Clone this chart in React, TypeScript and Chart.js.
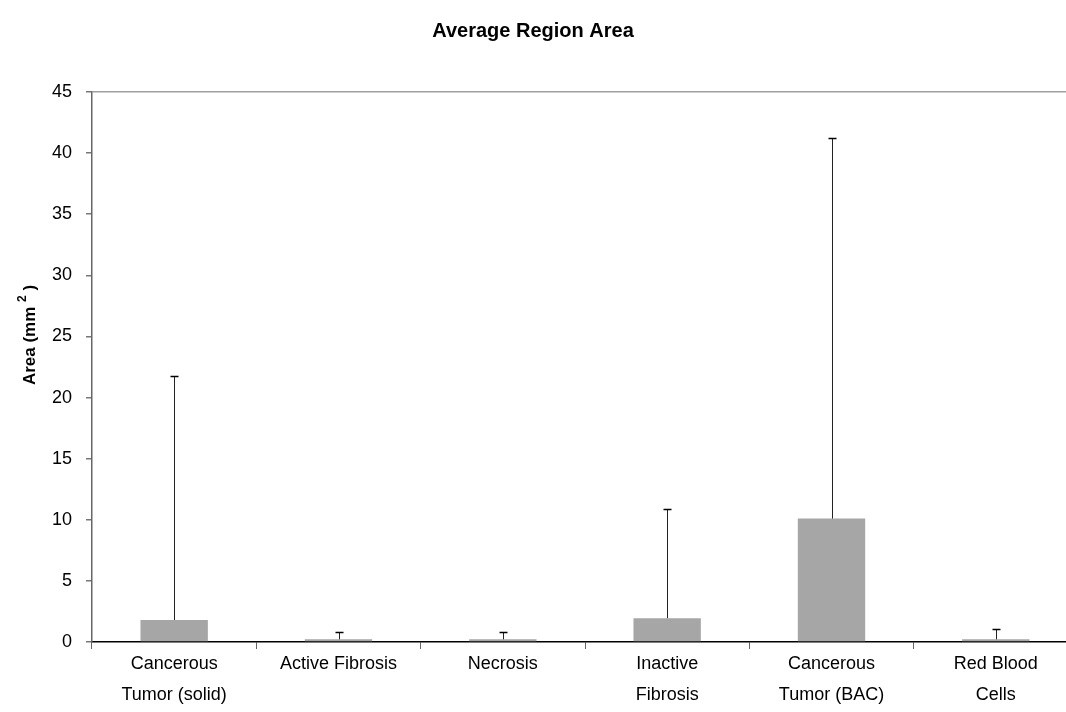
import React, { useEffect, useRef } from "react";
import { Chart, registerables } from "chart.js";

Chart.register(...registerables);

const categories: string[][] = [
  ["Cancerous", "Tumor (solid)"],
  ["Active Fibrosis"],
  ["Necrosis"],
  ["Inactive", "Fibrosis"],
  ["Cancerous", "Tumor (BAC)"],
  ["Red Blood", "Cells"],
];
const meanArea: number[] = [1.8, 0.22, 0.22, 1.95, 10.1, 0.22];
const errorTop: number[] = [21.75, 0.8, 0.8, 10.9, 41.2, 1.05];
const yTicks: number[] = [0, 5, 10, 15, 20, 25, 30, 35, 40, 45];
const chartTitle = "Average Region Area";
const yTitleMain = "Area (mm ";
const yTitleSup = "2";
const yTitleEnd = " )";

const FONT = "'Liberation Sans', Arial, sans-serif";

const errorBarPlugin = {
  id: "errorBars",
  afterDatasetsDraw(chart: any) {
    const meta = chart.getDatasetMeta(0);
    const ys = chart.scales.y;
    const ctx = chart.ctx;
    ctx.save();
    meta.data.forEach((bar: any, i: number) => {
      const x = Math.round(bar.x) + 0.5;
      const yb = ys.getPixelForValue(meanArea[i]);
      const yt = Math.round(ys.getPixelForValue(errorTop[i])) + 0.5;
      ctx.strokeStyle = "#222";
      ctx.lineWidth = 1;
      ctx.beginPath();
      ctx.moveTo(x, yb);
      ctx.lineTo(x, yt);
      ctx.stroke();
      ctx.strokeStyle = "#000";
      ctx.lineWidth = 1.5;
      ctx.beginPath();
      ctx.moveTo(x - 4, yt);
      ctx.lineTo(x + 4, yt);
      ctx.stroke();
    });
    ctx.restore();
  },
};

const textPlugin = {
  id: "texts",
  afterDraw(chart: any) {
    const ctx = chart.ctx;
    ctx.save();
    ctx.fillStyle = "#000";
    ctx.font = `bold 20px ${FONT}`;
    ctx.textAlign = "center";
    ctx.textBaseline = "middle";
    ctx.fillText(chartTitle, 533, 31);

    // rotated y-axis title with superscript
    ctx.translate(30, 335);
    ctx.rotate(-Math.PI / 2);
    ctx.textAlign = "left";
    ctx.textBaseline = "middle";
    const big = `bold 17px ${FONT}`;
    const small = `bold 12px ${FONT}`;
    ctx.font = big;
    const w1 = ctx.measureText(yTitleMain).width;
    ctx.font = small;
    const w2 = ctx.measureText(yTitleSup).width;
    ctx.font = big;
    const w3 = ctx.measureText(yTitleEnd).width;
    const total = w1 + w2 + w3;
    let x = -total / 2;
    ctx.font = big;
    ctx.fillText(yTitleMain, x, 0);
    x += w1;
    ctx.font = small;
    ctx.fillText(yTitleSup, x, -7);
    x += w2;
    ctx.font = big;
    ctx.fillText(yTitleEnd, x, 0);
    ctx.restore();
  },
};

export default function App() {
  const ref = useRef<HTMLCanvasElement | null>(null);
  useEffect(() => {
    document.body.style.margin = "0";
    document.body.style.overflow = "hidden";
    const chart = new Chart(ref.current as HTMLCanvasElement, {
      type: "bar",
      data: {
        labels: categories,
        datasets: [
          {
            data: meanArea,
            backgroundColor: "#a6a6a6",
            borderWidth: 0,
            barPercentage: 0.41,
            categoryPercentage: 1,
          },
        ],
      },
      plugins: [errorBarPlugin, textPlugin],
      options: {
        animation: false,
        responsive: false,
        maintainAspectRatio: false,
        layout: { padding: { left: 0, right: 12, top: 92, bottom: 0 } },
        plugins: {
          legend: { display: false },
          tooltip: { enabled: false },
          title: { display: false },
        },
        scales: {
          x: {
            offset: true,
            grid: {
              offset: true,
              drawOnChartArea: false,
              drawTicks: true,
              tickLength: 7,
              tickColor: "#666",
            },
            border: { display: true, color: "#000", width: 1.5 },
            ticks: {
              color: "#000",
              font: { family: FONT, size: 18, lineHeight: 1.72 },
              padding: 0,
              maxRotation: 0,
              autoSkip: false,
            },
            afterFit(scale: any) {
              scale.height = 70;
            },
          },
          y: {
            min: 0,
            max: 45,
            afterBuildTicks(scale: any) {
              scale.ticks = yTicks.map((v) => ({ value: v }));
            },
            grid: {
              drawOnChartArea: true,
              color: (c: any) => (c.tick && c.tick.value === 45 ? "#a0a0a0" : "rgba(0,0,0,0)"),
              lineWidth: 1.5,
              tickColor: "#777",
              tickLength: 6,
            },
            border: { display: true, color: "#666", width: 1.5 },
            ticks: {
              color: "#000",
              font: { family: FONT, size: 18 },
              padding: 14,
            },
            title: { display: false },
            afterFit(scale: any) {
              scale.width = 92;
            },
          },
        },
      },
    });
    return () => chart.destroy();
  }, []);
  return (
    <div style={{ position: "absolute", left: 0, top: 0, width: 1090, height: 712 }}>
      <canvas ref={ref} width={1090} height={712} style={{ display: "block" }} />
    </div>
  );
}
